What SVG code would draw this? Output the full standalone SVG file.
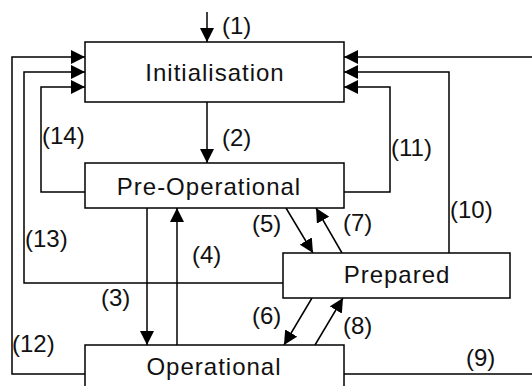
<svg xmlns="http://www.w3.org/2000/svg" width="532" height="386" viewBox="0 0 532 386">
<style>
.box{fill:#fff;stroke:#000;stroke-width:1.5}
.ln{fill:none;stroke:#000;stroke-width:1.5}
.nt{font-family:"Liberation Sans",Arial,sans-serif;font-size:24px;letter-spacing:1px;text-anchor:middle;fill:#111}
.lb{font-family:"Liberation Sans",Arial,sans-serif;font-size:24px;fill:#111}
</style>
<defs>
<marker id="ah" viewBox="0 0 14 14" refX="14" refY="7" markerWidth="14" markerHeight="14" orient="auto" markerUnits="userSpaceOnUse">
<path d="M0,0 L14,7 L0,14 z" fill="#000"/>
</marker>
</defs>
<rect width="532" height="386" fill="#fff"/>
<g id="connectors">
<path class="ln" d="M207,12 V42" marker-end="url(#ah)"/>
<path class="ln" d="M207,102 V163" marker-end="url(#ah)"/>
<path class="ln" d="M85,374 H12 V57 H85" marker-end="url(#ah)"/>
<path class="ln" d="M283,283 H24 V72 H85" marker-end="url(#ah)"/>
<path class="ln" d="M85,192 H41 V87 H85" marker-end="url(#ah)"/>
<path class="ln" d="M344,374 H540 V57 H344" marker-end="url(#ah)"/>
<path class="ln" d="M449,253 V72 H344" marker-end="url(#ah)"/>
<path class="ln" d="M344,192 H390 V87 H344" marker-end="url(#ah)"/>
<path class="ln" d="M147,208 V345" marker-end="url(#ah)"/>
<path class="ln" d="M177,345 V208" marker-end="url(#ah)"/>
<path class="ln" d="M286,208 L313,253" marker-end="url(#ah)"/>
<path class="ln" d="M342,253 L316,208" marker-end="url(#ah)"/>
<path class="ln" d="M312,298 L284,345" marker-end="url(#ah)"/>
<path class="ln" d="M315,345 L343,298" marker-end="url(#ah)"/>
<text class="lb" x="222" y="34">(1)</text>
<text class="lb" x="222" y="146">(2)</text>
<text class="lb" x="42" y="144">(14)</text>
<text class="lb" x="391" y="156">(11)</text>
<text class="lb" x="450" y="218">(10)</text>
<text class="lb" x="25" y="247">(13)</text>
<text class="lb" x="192" y="263">(4)</text>
<text class="lb" x="101" y="306">(3)</text>
<text class="lb" x="12" y="352">(12)</text>
<text class="lb" x="252" y="232">(5)</text>
<text class="lb" x="343" y="231">(7)</text>
<text class="lb" x="252" y="324">(6)</text>
<text class="lb" x="343" y="334">(8)</text>
<text class="lb" x="466" y="366">(9)</text>
</g>
<g id="initialisation">
<rect class="box" x="85" y="42" width="259" height="60"/>
<text class="nt" x="215" y="81">Initialisation</text>
</g>
<g id="preoperational">
<rect class="box" x="85" y="163" width="259" height="45"/>
<text class="nt" x="209" y="195">Pre-Operational</text>
</g>
<g id="prepared">
<rect class="box" x="283" y="253" width="227" height="45"/>
<text class="nt" x="397" y="283">Prepared</text>
</g>
<g id="operational">
<rect class="box" x="85" y="345" width="259" height="60"/>
<text class="nt" x="214" y="375">Operational</text>
</g>
</svg>
